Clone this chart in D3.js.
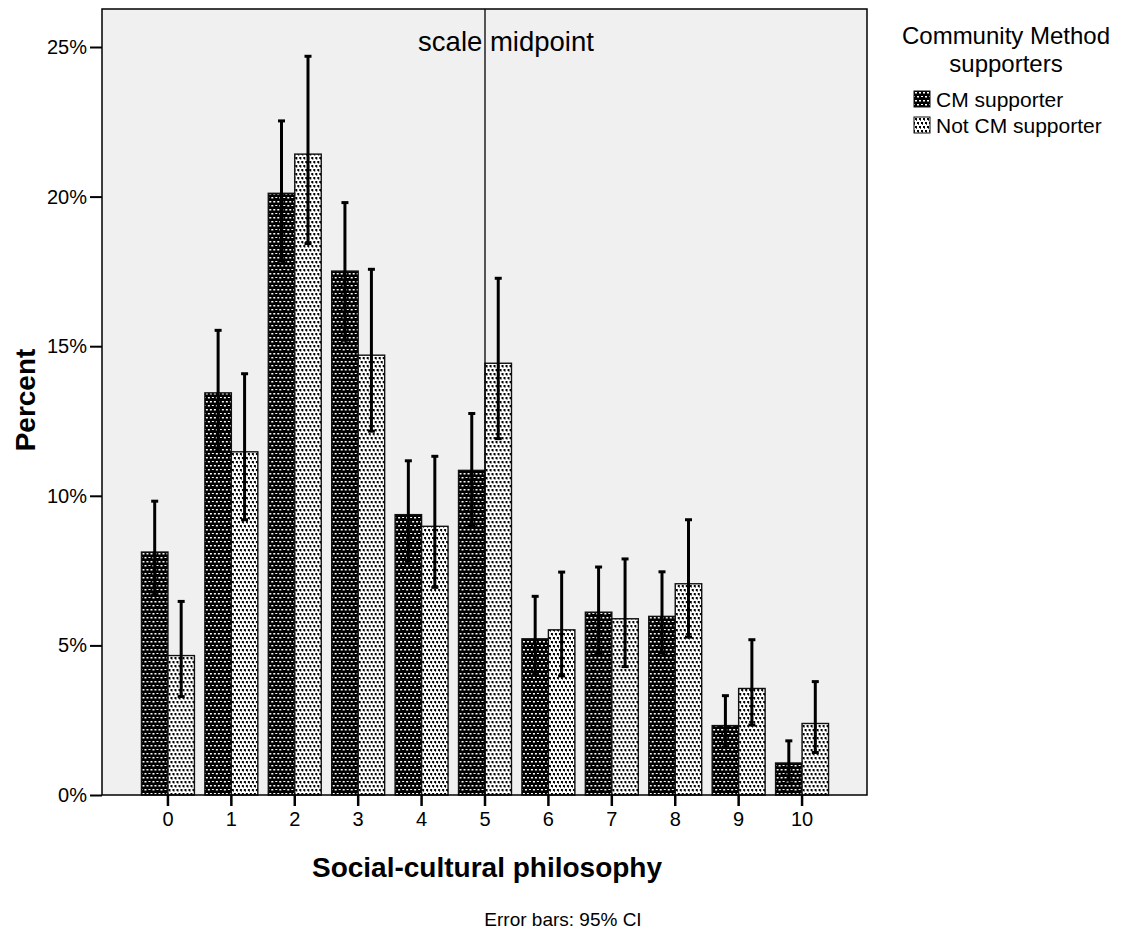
<!DOCTYPE html>
<html><head><meta charset="utf-8">
<script src="https://cdn.jsdelivr.net/npm/d3@7"></script>
<style>
html,body{margin:0;padding:0;background:#fff;}
text{font-family:"Liberation Sans",Arial,sans-serif;fill:#000;}
</style></head>
<body>
<svg id="chart" width="1123" height="933"></svg>
<script>
const categories = ["0","1","2","3","4","5","6","7","8","9","10"];
const seriesNames = ["CM supporter","Not CM supporter"];
const cmValues  = [8.12, 13.44, 20.11, 17.51, 9.37, 10.85, 5.22, 6.11, 5.97, 2.32, 1.07];
const cmLow     = [6.69, 11.50, 17.85, 15.20, 7.81, 9.00, 4.02, 4.70, 4.75, 1.60, 0.50];
const cmHigh    = [9.82, 15.53, 22.53, 19.80, 11.17, 12.75, 6.64, 7.62, 7.46, 3.32, 1.81];
const notValues = [4.66, 11.47, 21.42, 14.70, 8.98, 14.43, 5.52, 5.89, 7.06, 3.56, 2.39];
const notLow    = [3.29, 9.20, 18.43, 12.16, 6.94, 11.91, 3.98, 4.29, 5.28, 2.34, 1.42];
const notHigh   = [6.47, 14.08, 24.69, 17.57, 11.32, 17.27, 7.45, 7.89, 9.20, 5.19, 3.79];
const yTicks = [0, 5, 10, 15, 20, 25];
const midpointCategory = "5";

const svg = d3.select("#chart");
const plot = {left:102, right:867, top:9, bottom:795};

// patterns
const defs = svg.append("defs");
const pd = defs.append("pattern").attr("id","patDark").attr("patternUnits","userSpaceOnUse")
  .attr("width",8).attr("height",8);
pd.append("rect").attr("width",8).attr("height",8).attr("fill","#000");
[[1,1,2,1],[5,1,2,1],[3,5,2,1],[7,5,1,1],[0,5,1,1],[1.5,2,1,1],[5.5,2,1,1],[3.5,6,1,1]].forEach(r=>
  pd.append("rect").attr("x",r[0]).attr("y",r[1]).attr("width",r[2]).attr("height",r[3]).attr("fill","#fff"));
const pl = defs.append("pattern").attr("id","patLight").attr("patternUnits","userSpaceOnUse")
  .attr("width",8).attr("height",8);
pl.append("rect").attr("width",8).attr("height",8).attr("fill","#fff");
[[1,1,2,2],[5,1,2,2],[3,5,2,2],[7,5,1,2],[0,5,1,2]].forEach(r=>
  pl.append("rect").attr("x",r[0]).attr("y",r[1]).attr("width",r[2]).attr("height",r[3]).attr("fill","#000"));
[[2,3,1,1],[6,3,1,1],[4,7,1,1],[0,7,1,1]].forEach(r=>
  pl.append("rect").attr("x",r[0]).attr("y",r[1]).attr("width",r[2]).attr("height",r[3]).attr("fill","#555"));
const fills = ["url(#patDark)","url(#patLight)"];

// background
svg.append("rect").attr("x",plot.left).attr("y",plot.top)
  .attr("width",plot.right-plot.left).attr("height",plot.bottom-plot.top)
  .attr("fill","#f0f0f0");

const x0 = d3.scaleBand().domain(categories).range([131, 839]).padding(0.165);
const x1 = d3.scaleBand().domain(seriesNames).range([0, x0.bandwidth()]);
const y = d3.scaleLinear().domain([0, 26.27]).range([plot.bottom, plot.top]);

const rows = categories.map((c,i)=>({cat:c, vals:[
  {s:seriesNames[0], v:cmValues[i], lo:cmLow[i], hi:cmHigh[i], k:0},
  {s:seriesNames[1], v:notValues[i], lo:notLow[i], hi:notHigh[i], k:1}]}));

const g = svg.append("g");
const groups = g.selectAll("g.cat").data(rows).join("g")
  .attr("transform", d=>`translate(${x0(d.cat)},0)`);
groups.selectAll("rect").data(d=>d.vals).join("rect")
  .attr("x", d=>x1(d.s)).attr("width", x1.bandwidth())
  .attr("y", d=>y(d.v)).attr("height", d=>y(0)-y(d.v))
  .attr("fill", d=>fills[d.k]).attr("stroke","#111").attr("stroke-width",1.4);

// midpoint line
const mx = x0(midpointCategory) + x0.bandwidth()/2;
svg.append("line").attr("x1",mx).attr("x2",mx).attr("y1",plot.top).attr("y2",plot.bottom)
  .attr("stroke","#000").attr("stroke-width",1.3);
svg.append("text").attr("x",mx+21).attr("y",51).attr("text-anchor","middle")
  .attr("font-size",27.5).text("scale midpoint");

// error bars
const eb = groups.selectAll("g.err").data(d=>d.vals).join("g");
eb.append("line").attr("x1",d=>x1(d.s)+x1.bandwidth()/2).attr("x2",d=>x1(d.s)+x1.bandwidth()/2)
  .attr("y1",d=>y(d.lo)).attr("y2",d=>y(d.hi)).attr("stroke","#000").attr("stroke-width",3);
["lo","hi"].forEach(key=>{
  eb.append("line").attr("x1",d=>x1(d.s)+x1.bandwidth()/2-3.5).attr("x2",d=>x1(d.s)+x1.bandwidth()/2+3.5)
    .attr("y1",d=>y(d[key])).attr("y2",d=>y(d[key])).attr("stroke","#000").attr("stroke-width",3);
});

// frame
svg.append("rect").attr("x",plot.left).attr("y",plot.top)
  .attr("width",plot.right-plot.left).attr("height",plot.bottom-plot.top)
  .attr("fill","none").attr("stroke","#000").attr("stroke-width",1.5);

// axes
const yAxis = d3.axisLeft(y).tickValues(yTicks).tickFormat(d=>d+"%").tickSize(12).tickPadding(3);
const ya = svg.append("g").attr("transform",`translate(${plot.left},0)`).call(yAxis);
ya.select(".domain").remove();
ya.selectAll(".tick line").attr("stroke","#000").attr("stroke-width",2);
ya.selectAll(".tick text").attr("font-size",20).attr("font-family","Liberation Sans, Arial, sans-serif").attr("fill","#000");

const xAxis = d3.axisBottom(x0).tickSize(11).tickPadding(6);
const xa = svg.append("g").attr("transform",`translate(0,${plot.bottom})`).call(xAxis);
xa.select(".domain").remove();
xa.selectAll(".tick line").attr("stroke","#000").attr("stroke-width",2.5);
xa.selectAll(".tick text").attr("font-size",20).attr("font-family","Liberation Sans, Arial, sans-serif").attr("fill","#000");

// titles
svg.append("text").attr("transform","translate(35,400) rotate(-90)").attr("text-anchor","middle")
  .attr("font-size",28).attr("font-weight","bold").text("Percent");
svg.append("text").attr("x",487).attr("y",877).attr("text-anchor","middle")
  .attr("font-size",28).attr("font-weight","bold").text("Social-cultural philosophy");
svg.append("text").attr("x",563).attr("y",926).attr("text-anchor","middle")
  .attr("font-size",19).text("Error bars: 95% CI");

// legend
svg.append("text").attr("x",1006).attr("y",44).attr("text-anchor","middle").attr("font-size",24).text("Community Method");
svg.append("text").attr("x",1006).attr("y",72).attr("text-anchor","middle").attr("font-size",24).text("supporters");
const lg = svg.selectAll("g.leg").data(seriesNames).join("g")
  .attr("transform",(d,i)=>`translate(914,${91+i*26})`);
lg.append("rect").attr("width",16).attr("height",16).attr("fill",(d,i)=>fills[i]).attr("stroke","#111");
lg.append("text").attr("x",22).attr("y",16).attr("font-size",21).text(d=>d);
</script>
</body></html>
